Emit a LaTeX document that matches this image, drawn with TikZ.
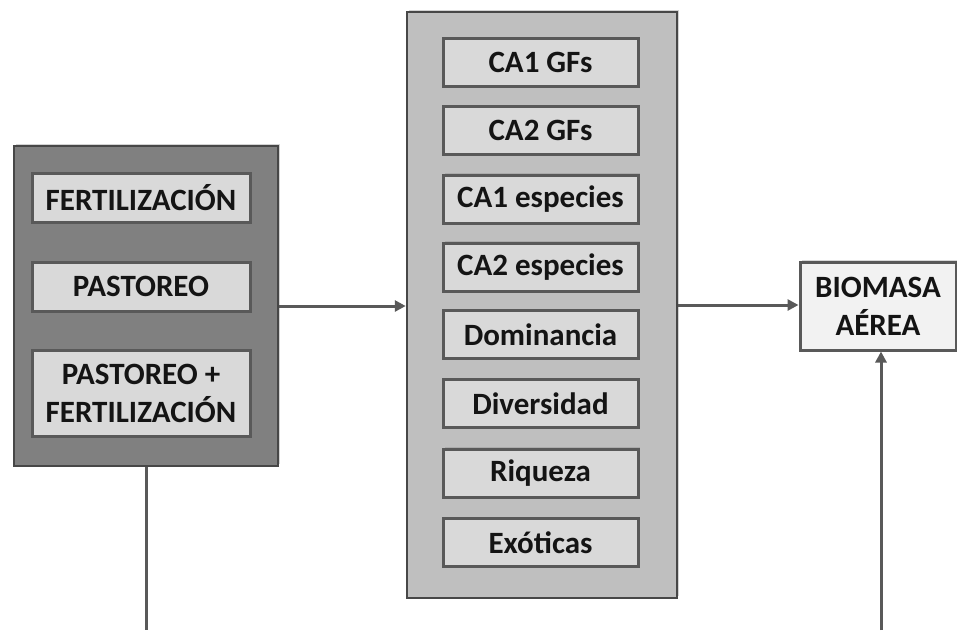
\documentclass[tikz,border=0pt]{standalone}
\usepackage{fontspec}
\setmainfont{Carlito}
\usetikzlibrary{arrows.meta,shadows}
\definecolor{edgegray}{HTML}{595959}
\definecolor{darkfill}{HTML}{808080}
\definecolor{midfill}{HTML}{BFBFBF}
\definecolor{innerfill}{HTML}{D9D9D9}
\definecolor{lightfill}{HTML}{F2F2F2}
\definecolor{txt}{HTML}{141414}
\tikzset{
  outerbox/.style={draw=edgegray!80!black, line width=2.5pt, inner sep=0pt,
    drop shadow={shadow xshift=2pt, shadow yshift=2pt, opacity=0.35}},
  innerbox/.style={draw=edgegray, fill=innerfill, line width=3pt, inner sep=0pt,
    minimum height=48pt, align=center, text=txt,
    font=\fontsize{31}{38}\selectfont\bfseries,
    drop shadow={shadow xshift=2pt, shadow yshift=2pt, opacity=0.3}},
  conn/.style={draw=edgegray, line width=3pt},
  arr/.style={conn, -{Triangle[length=11pt,width=11pt]}},
}
\begin{document}
\begin{tikzpicture}[x=1pt,y=-1pt]
\useasboundingbox (0,0) rectangle (957,630);
% left group
\node[outerbox, fill=darkfill, minimum width=264pt, minimum height=320pt] (L) at (146,306) {};
\node[innerbox, minimum width=218pt, minimum height=49pt] (f1) at (141,197.5) {FERTILIZACIÓN};
\node[innerbox, minimum width=218pt, minimum height=49pt] (f2) at (141,286.5) {PASTOREO};
\node[innerbox, minimum width=218pt, minimum height=86pt] (f3) at (141,393) {PASTOREO +\\FERTILIZACIÓN};
% middle group
\node[outerbox, fill=midfill, minimum width=270pt, minimum height=586pt] (M) at (542,305) {};
\node[innerbox, minimum width=195pt] (m1) at (540.5,62.5) {CA1 GFs};
\node[innerbox, minimum width=195pt] (m2) at (540.5,130.5) {CA2 GFs};
\node[innerbox, minimum width=195pt] (m3) at (540.5,199) {CA1 especies};
\node[innerbox, minimum width=195pt] (m4) at (540.5,267) {CA2 especies};
\node[innerbox, minimum width=195pt] (m5) at (540.5,334.5) {Dominancia};
\node[innerbox, minimum width=195pt] (m6) at (540.5,403.5) {Diversidad};
\node[innerbox, minimum width=195pt] (m7) at (540.5,473) {Riqueza};
\node[innerbox, minimum width=195pt] (m8) at (540.5,542.5) {Exóticas};
% result
\node[innerbox, fill=lightfill, minimum width=156pt, minimum height=88pt] (B) at (878,306) {BIOMASA\\AÉREA};
% connectors
\draw[arr] (L.east) -- (L.east -| M.west);
\draw[arr] (M.east) -- (M.east -| B.west);
\coordinate (c1) at (146,630);
\coordinate (c2) at (881,630);
\draw[conn] (L.south) -- (c1);
\draw[arr] (c2) -- (c2 |- B.south);
\end{tikzpicture}
\end{document}
